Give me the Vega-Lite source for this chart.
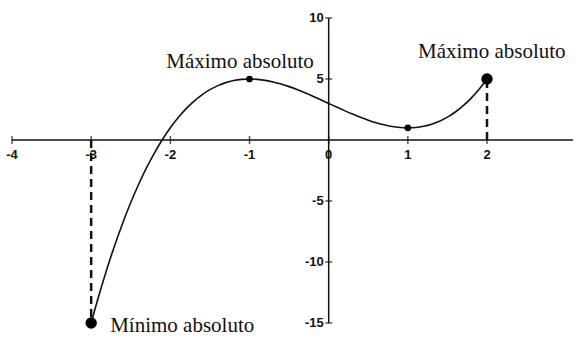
{
  "$schema": "https://vega.github.io/schema/vega-lite/v6.json",
  "width": 561,
  "height": 305,
  "autosize": {"type": "none"},
  "padding": {"left": 12, "top": 18, "right": 6, "bottom": 21},
  "background": "white",
  "config": {"view": {"stroke": null}},
  "datasets": {
    "curve": [
      {"x": -3.0, "y": -15}, {"x": -2.9, "y": -12.689}, {"x": -2.8, "y": -10.552}, {"x": -2.7, "y": -8.583},
      {"x": -2.6, "y": -6.776}, {"x": -2.5, "y": -5.125}, {"x": -2.4, "y": -3.624}, {"x": -2.3, "y": -2.267},
      {"x": -2.2, "y": -1.048}, {"x": -2.1, "y": 0.039}, {"x": -2.0, "y": 1}, {"x": -1.9, "y": 1.841},
      {"x": -1.8, "y": 2.568}, {"x": -1.7, "y": 3.187}, {"x": -1.6, "y": 3.704}, {"x": -1.5, "y": 4.125},
      {"x": -1.4, "y": 4.456}, {"x": -1.3, "y": 4.703}, {"x": -1.2, "y": 4.872}, {"x": -1.1, "y": 4.969},
      {"x": -1.0, "y": 5}, {"x": -0.9, "y": 4.971}, {"x": -0.8, "y": 4.888}, {"x": -0.7, "y": 4.757},
      {"x": -0.6, "y": 4.584}, {"x": -0.5, "y": 4.375}, {"x": -0.4, "y": 4.136}, {"x": -0.3, "y": 3.873},
      {"x": -0.2, "y": 3.592}, {"x": -0.1, "y": 3.299}, {"x": 0.0, "y": 3}, {"x": 0.1, "y": 2.701},
      {"x": 0.2, "y": 2.408}, {"x": 0.3, "y": 2.127}, {"x": 0.4, "y": 1.864}, {"x": 0.5, "y": 1.625},
      {"x": 0.6, "y": 1.416}, {"x": 0.7, "y": 1.243}, {"x": 0.8, "y": 1.112}, {"x": 0.9, "y": 1.029},
      {"x": 1.0, "y": 1}, {"x": 1.1, "y": 1.031}, {"x": 1.2, "y": 1.128}, {"x": 1.3, "y": 1.297},
      {"x": 1.4, "y": 1.544}, {"x": 1.5, "y": 1.875}, {"x": 1.6, "y": 2.296}, {"x": 1.7, "y": 2.813},
      {"x": 1.8, "y": 3.432}, {"x": 1.9, "y": 4.159}, {"x": 2.0, "y": 5}
    ],
    "xticks": [
      {"x": -4, "y": 0, "label": "-4"}, {"x": -3, "y": 0, "label": "-3"}, {"x": -2, "y": 0, "label": "-2"},
      {"x": -1, "y": 0, "label": "-1"}, {"x": 0, "y": 0, "label": "0"}, {"x": 1, "y": 0, "label": "1"},
      {"x": 2, "y": 0, "label": "2"}
    ],
    "yticks": [
      {"x": 0, "y": 10, "label": "10"}, {"x": 0, "y": 5, "label": "5"}, {"x": 0, "y": -5, "label": "-5"},
      {"x": 0, "y": -10, "label": "-10"}, {"x": 0, "y": -15, "label": "-15"}
    ],
    "dashes": [{"x": -3, "y": 0, "y2": -15}, {"x": 2, "y": 0, "y2": 5}],
    "big": [{"x": -3, "y": -15}, {"x": 2, "y": 5}],
    "small": [{"x": -1, "y": 5}, {"x": 1, "y": 1}],
    "labels": [
      {"x": -1.12, "y": 5.9, "text": "Máximo absoluto", "align": "center"},
      {"x": 2.06, "y": 6.72, "text": "Máximo absoluto", "align": "center"},
      {"x": -2.76, "y": -15.74, "text": "Mínimo absoluto", "align": "left"}
    ]
  },
  "encoding": {
    "x": {"field": "x", "type": "quantitative", "scale": {"domain": [-4, 3.086], "nice": false, "zero": false}, "axis": null},
    "y": {"field": "y", "type": "quantitative", "scale": {"domain": [-15, 10], "nice": false, "zero": false}, "axis": null}
  },
  "layer": [
    {
      "data": {"values": [{"x": -4, "x2": 3.086, "y": 0}]},
      "mark": {"type": "rule", "color": "#111", "strokeWidth": 1.5},
      "encoding": {"x2": {"field": "x2"}}
    },
    {
      "data": {"values": [{"x": 0, "y": -15, "y2": 10}]},
      "mark": {"type": "rule", "color": "#111", "strokeWidth": 1.5},
      "encoding": {"y2": {"field": "y2"}}
    },
    {
      "data": {"name": "xticks"},
      "mark": {"type": "tick", "orient": "vertical", "color": "#111", "size": 8, "thickness": 1.5}
    },
    {
      "data": {"name": "xticks"},
      "mark": {"type": "text", "dy": 15, "baseline": "middle", "align": "center", "font": "Liberation Sans", "fontWeight": "bold", "fontSize": 13, "color": "#111"},
      "encoding": {"text": {"field": "label"}}
    },
    {
      "data": {"name": "yticks"},
      "mark": {"type": "tick", "orient": "horizontal", "color": "#111", "size": 7, "thickness": 1.5}
    },
    {
      "data": {"name": "yticks"},
      "mark": {"type": "text", "dx": -5, "baseline": "middle", "align": "right", "font": "Liberation Sans", "fontWeight": "bold", "fontSize": 13, "color": "#111"},
      "encoding": {"text": {"field": "label"}}
    },
    {
      "data": {"name": "dashes"},
      "mark": {"type": "rule", "color": "#111", "strokeWidth": 2.5, "strokeDash": [8, 5]},
      "encoding": {"y2": {"field": "y2"}}
    },
    {
      "data": {"name": "curve"},
      "mark": {"type": "line", "color": "#111", "strokeWidth": 1.6, "interpolate": "monotone"},
      "encoding": {"order": {"field": "x"}}
    },
    {
      "data": {"name": "big"},
      "mark": {"type": "circle", "color": "#000", "size": 130, "opacity": 1}
    },
    {
      "data": {"name": "small"},
      "mark": {"type": "circle", "color": "#000", "size": 45, "opacity": 1}
    },
    {
      "data": {"name": "labels"},
      "transform": [{"filter": "datum.align == 'center'"}],
      "mark": {"type": "text", "align": "center", "baseline": "alphabetic", "font": "Liberation Serif", "fontSize": 21, "color": "#111"},
      "encoding": {"text": {"field": "text"}}
    },
    {
      "data": {"name": "labels"},
      "transform": [{"filter": "datum.align == 'left'"}],
      "mark": {"type": "text", "align": "left", "baseline": "alphabetic", "font": "Liberation Serif", "fontSize": 21, "color": "#111", "clip": false},
      "encoding": {"text": {"field": "text"}}
    }
  ]
}
